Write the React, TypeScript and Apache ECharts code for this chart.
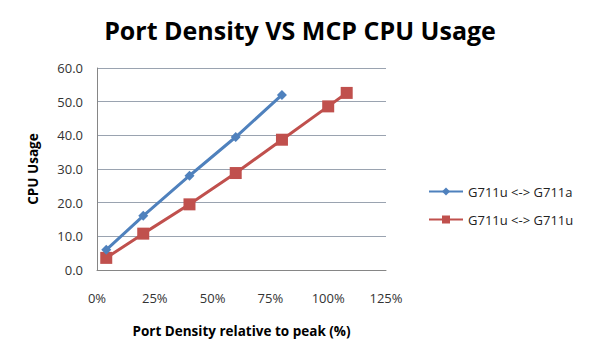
import React, { useEffect, useRef } from "react";
import * as echarts from "echarts";

const seriesNames = ["G711u <-> G711a", "G711u <-> G711u"];
const blueX = [4, 20, 40, 60, 80];
const blueY = [6.0, 16.1, 28.0, 39.5, 52.0];
const redX = [4, 20, 40, 60, 80, 100, 108];
const redY = [3.6, 10.8, 19.5, 28.8, 38.7, 48.6, 52.6];

export default function App() {
  const ref = useRef<HTMLDivElement>(null);
  useEffect(() => {
    const chart = echarts.init(ref.current!, null, { renderer: "svg" });
    const font = "'Open Sans', sans-serif";
    chart.setOption({
      animation: false,
      backgroundColor: "#ffffff",
      title: {
        text: "Port Density VS MCP CPU Usage",
        left: "center",
        top: 12,
        textStyle: { fontFamily: font, fontSize: 25, fontWeight: "bold", color: "#000" },
      },
      grid: { left: 97, top: 68, width: 289, height: 202 },
      legend: {
        orient: "vertical",
        left: 423,
        top: 177,
        itemWidth: 34,
        itemHeight: 10,
        itemGap: 9,
        textStyle: { fontFamily: font, fontSize: 13, color: "#222", lineHeight: 19 },
        data: seriesNames,
      },
      xAxis: {
        type: "value",
        min: 0,
        max: 125,
        interval: 25,
        name: "Port Density relative to peak (%)",
        nameLocation: "middle",
        nameGap: 54,
        nameTextStyle: { fontFamily: font, fontSize: 13.5, fontWeight: "bold", color: "#000" },
        axisLine: { show: true, lineStyle: { color: "#868686" } },
        axisTick: { show: false },
        splitLine: { show: false },
        axisLabel: { formatter: "{value}%", fontFamily: font, fontSize: 13, color: "#333", margin: 21 },
      },
      yAxis: {
        type: "value",
        min: 0,
        max: 60,
        interval: 10,
        name: "CPU Usage",
        nameLocation: "middle",
        nameGap: 57,
        nameTextStyle: { fontFamily: font, fontSize: 13.5, fontWeight: "bold", color: "#000" },
        axisLine: { show: true, lineStyle: { color: "#868686" } },
        axisTick: { show: false },
        splitLine: { show: true, lineStyle: { color: "#9aa3b0" } },
        axisLabel: {
          formatter: (v: number) => v.toFixed(1),
          fontFamily: font,
          fontSize: 13,
          color: "#333",
          margin: 14,
        },
      },
      series: [
        {
          name: seriesNames[0],
          type: "line",
          data: blueX.map((x, i) => [x, blueY[i]]),
          symbol: "diamond",
          symbolSize: 10,
          lineStyle: { color: "#4F81BD", width: 3 },
          itemStyle: { color: "#4F81BD" },
          z: 3,
        },
        {
          name: seriesNames[1],
          type: "line",
          data: redX.map((x, i) => [x, redY[i]]),
          symbol: "rect",
          symbolSize: 12,
          lineStyle: { color: "#C0504D", width: 3 },
          itemStyle: { color: "#C0504D" },
          z: 2,
        },
      ],
    });
    return () => chart.dispose();
  }, []);
  return <div ref={ref} style={{ width: 600, height: 358, position: "absolute", left: 0, top: 0 }} />;
}
